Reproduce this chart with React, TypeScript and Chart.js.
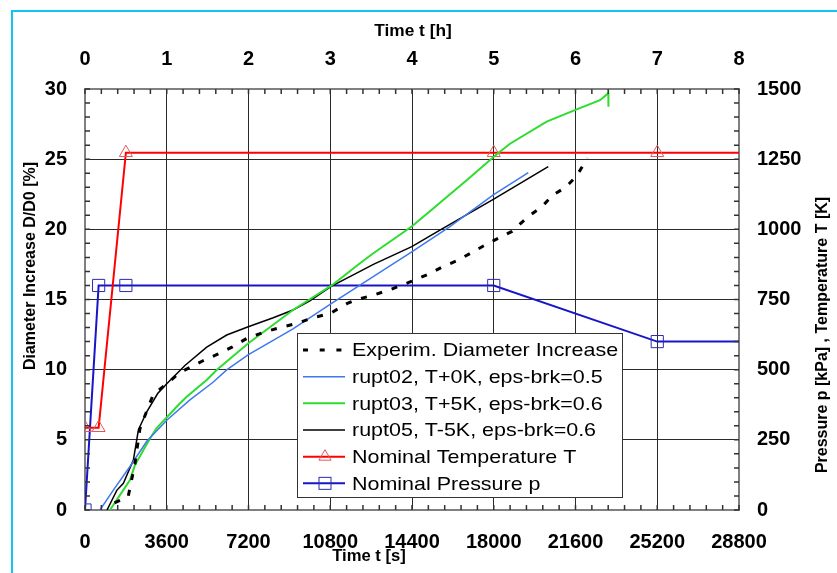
import { useEffect, useRef } from 'react';
import { Chart, registerables } from 'chart.js';
Chart.register(...registerables);

// ---- data ----
const secTicks = [0, 3600, 7200, 10800, 14400, 18000, 21600, 25200, 28800];
const hourTicks = [0, 1, 2, 3, 4, 5, 6, 7, 8];
const diaTicks = [0, 5, 10, 15, 20, 25, 30];
const rightTicks = [0, 250, 500, 750, 1000, 1250, 1500];

const expTime = [1300, 1900, 2200, 2420, 2730, 3000, 3600, 4180, 5150, 5770, 6470, 7150, 7930, 8590, 9340, 10040, 10790, 11530, 11960, 12680, 13430, 14310, 15110, 15770, 16430, 17090, 17750, 18060, 18800, 19510, 20110, 20610, 21170, 21650, 22020, 22100];
const expDia = [0.5, 0.95, 3.3, 5.8, 7.1, 8.2, 9.0, 9.8, 10.6, 11.05, 11.6, 12.25, 12.7, 13.0, 13.3, 13.7, 14.0, 14.7, 15.0, 15.3, 15.7, 16.25, 16.8, 17.35, 17.8, 18.4, 19.0, 19.25, 19.85, 20.9, 21.6, 22.45, 23.0, 23.8, 24.8, 25.1];

const r02Time = [660, 1240, 1980, 2720, 3600, 4620, 5640, 6240, 7180, 9160, 10860, 12110, 14390, 16070, 17980, 19520];
const r02Dia = [0, 1.4, 3.1, 4.9, 6.4, 7.85, 9.1, 9.98, 11.05, 12.9, 14.73, 16.03, 18.4, 20.2, 22.45, 24.04];

const r03Time = [1100, 1980, 2200, 2860, 3155, 3600, 4037, 4478, 5358, 5798, 7193, 9160, 10862, 12110, 12697, 14386, 15267, 16074, 16808, 18130, 18716, 20330, 21652, 22679, 23045, 23050];
const r03Dia = [0, 2.14, 3.2, 5.1, 5.84, 6.6, 7.36, 8.07, 9.26, 9.98, 11.88, 14.25, 16.0, 17.58, 18.3, 20.2, 21.4, 22.5, 23.5, 25.35, 26.1, 27.67, 28.55, 29.2, 29.7, 28.74];

const r05Time = [970, 1400, 1690, 2130, 2350, 2720, 3200, 3600, 4400, 5360, 6240, 7190, 8290, 9160, 9900, 10860, 12110, 12700, 14390, 15630, 17980, 20400];
const r05Dia = [0, 1.4, 1.9, 3.56, 5.7, 7.0, 8.3, 9.0, 10.3, 11.6, 12.47, 13.06, 13.7, 14.25, 14.9, 15.95, 17.0, 17.5, 18.77, 19.95, 22.14, 24.47];

const tempTime = [0, 600, 1800, 18000, 25200, 28800];
const tempK = [293, 293, 1273, 1273, 1273, 1273];
const tempMarker = [1, 1, 1, 1, 1, 0];

const presTime = [0, 600, 1800, 18000, 25200, 28800];
const presKPa = [0, 800, 800, 800, 600, 600];
const presMarker = [1, 1, 1, 1, 1, 0];

const legendLabels = [
  'Experim. Diameter Increase',
  'rupt02, T+0K, eps-brk=0.5',
  'rupt03, T+5K, eps-brk=0.6',
  'rupt05, T-5K, eps-brk=0.6',
  'Nominal Temperature T',
  'Nominal Pressure p',
];

const titleTop = 'Time t [h]';
const titleBottom = 'Time t [s]';
const titleLeft = 'Diameter Increase D/D0 [%]';
const titleRight = 'Pressure p [kPa] , Temperature T [K]';

// ---- styles ----
const C_EXP = '#000000';
const C_R02 = '#3f78ee';
const C_R03 = '#2edc2e';
const C_R05 = '#000000';
const C_TEMP = '#ff0000';
const C_TEMP_MK = '#e05a5a';
const C_PRES = '#1616c8';
const C_PRES_MK = '#2a2ab8';
const FONT = '"Liberation Sans", Arial, sans-serif';

const pts = (xs: number[], ys: number[]) => xs.map((x, i) => ({ x, y: ys[i] }));

function triangle(ctx: CanvasRenderingContext2D, cx: number, cy: number, r: number) {
  const s = Math.sin((2 * Math.PI) / 3) * r;
  ctx.beginPath();
  ctx.moveTo(cx, cy - r);
  ctx.lineTo(cx + s, cy + r / 2);
  ctx.lineTo(cx - s, cy + r / 2);
  ctx.closePath();
  ctx.stroke();
}

const decor = {
  id: 'decor',
  afterDraw(chart: any) {
    const { ctx, chartArea: a, scales } = chart;
    const x = scales.x;
    const y = scales.y;
    ctx.save();
    // minor ticks
    ctx.strokeStyle = '#333';
    ctx.lineWidth = 1.5;
    ctx.beginPath();
    for (let t = 0; t <= 28800; t += 720) {
      const px = x.getPixelForValue(t);
      ctx.moveTo(px, a.top);
      ctx.lineTo(px, a.top + 5);
      ctx.moveTo(px, a.bottom);
      ctx.lineTo(px, a.bottom - 5);
    }
    for (let d = 0; d <= 30; d += 1) {
      const py = y.getPixelForValue(d);
      ctx.moveTo(a.left, py);
      ctx.lineTo(a.left + 5, py);
      ctx.moveTo(a.right, py);
      ctx.lineTo(a.right - 5, py);
    }
    ctx.stroke();

    // axis titles
    ctx.fillStyle = '#000';
    ctx.font = `bold 16px ${FONT}`;
    ctx.textAlign = 'center';
    ctx.textBaseline = 'middle';
    ctx.save();
    ctx.translate(413, 32);
    ctx.scale(1.08, 1);
    ctx.fillText(titleTop, 0, 0);
    ctx.restore();
    ctx.save();
    ctx.translate(369, 557);
    ctx.scale(1.04, 1);
    ctx.fillText(titleBottom, 0, 0);
    ctx.restore();
    ctx.save();
    ctx.translate(31, 266);
    ctx.rotate(-Math.PI / 2);
    ctx.fillText(titleLeft, 0, 0);
    ctx.restore();
    ctx.save();
    ctx.translate(823, 335);
    ctx.rotate(-Math.PI / 2);
    ctx.fillText(titleRight, 0, 0);
    ctx.restore();

    // legend
    const bx = 297.5, by = 333.5, bw = 325, bh = 164;
    ctx.fillStyle = '#fff';
    ctx.fillRect(bx, by, bw, bh);
    ctx.strokeStyle = '#333';
    ctx.lineWidth = 1;
    ctx.strokeRect(bx, by, bw, bh);
    const x0 = 303, x1 = 345, xm = 325;
    legendLabels.forEach((lab, i) => {
      const ry = 350 + i * 26.67;
      ctx.save();
      ctx.setLineDash([]);
      if (i === 0) {
        ctx.strokeStyle = C_EXP; ctx.lineWidth = 3; ctx.setLineDash([5, 11.7]);
      } else if (i === 1) {
        ctx.strokeStyle = C_R02; ctx.lineWidth = 1.5;
      } else if (i === 2) {
        ctx.strokeStyle = C_R03; ctx.lineWidth = 2;
      } else if (i === 3) {
        ctx.strokeStyle = C_R05; ctx.lineWidth = 1.5;
      } else if (i === 4) {
        ctx.strokeStyle = C_TEMP; ctx.lineWidth = 2;
      } else {
        ctx.strokeStyle = C_PRES; ctx.lineWidth = 2;
      }
      ctx.beginPath();
      ctx.moveTo(x0, ry);
      ctx.lineTo(x1, ry);
      ctx.stroke();
      ctx.setLineDash([]);
      if (i === 4) {
        ctx.strokeStyle = C_TEMP_MK; ctx.lineWidth = 1;
        triangle(ctx, xm, ry, 7);
      } else if (i === 5) {
        ctx.strokeStyle = C_PRES_MK; ctx.lineWidth = 1;
        ctx.strokeRect(xm - 6, ry - 6, 12, 12);
      }
      ctx.restore();
      ctx.save();
      ctx.translate(352, ry);
      ctx.scale(1.13, 1);
      ctx.fillStyle = '#000';
      ctx.font = `19px ${FONT}`;
      ctx.textAlign = 'left';
      ctx.textBaseline = 'middle';
      ctx.fillText(lab, 0, 1);
      ctx.restore();
    });

    // outer frame
    ctx.strokeStyle = '#12c4f2';
    ctx.lineWidth = 2;
    ctx.beginPath();
    ctx.moveTo(12, 600);
    ctx.lineTo(12, 11);
    ctx.lineTo(900, 11);
    ctx.stroke();
    ctx.restore();
  },
};

const tickFont = { family: FONT, size: 20, weight: 'bold' as const };
const fmt = (v: any) => String(v);

export default function App() {
  const ref = useRef<HTMLCanvasElement>(null);
  useEffect(() => {
    const chart = new Chart(ref.current!, {
      type: 'line',
      data: {
        datasets: [
          {
            label: legendLabels[0], data: pts(expTime, expDia), borderColor: C_EXP, borderWidth: 3,
            borderDash: [6, 10], pointRadius: 0, xAxisID: 'x', yAxisID: 'y',
          },
          {
            label: legendLabels[1], data: pts(r02Time, r02Dia), borderColor: C_R02, borderWidth: 1.5,
            pointRadius: 0, xAxisID: 'x', yAxisID: 'y',
          },
          {
            label: legendLabels[2], data: pts(r03Time, r03Dia), borderColor: C_R03, borderWidth: 2,
            pointRadius: 0, xAxisID: 'x', yAxisID: 'y',
          },
          {
            label: legendLabels[3], data: pts(r05Time, r05Dia), borderColor: C_R05, borderWidth: 1.5,
            pointRadius: 0, xAxisID: 'x', yAxisID: 'y',
          },
          {
            label: legendLabels[4], data: pts(tempTime, tempK), borderColor: C_TEMP, borderWidth: 2,
            pointStyle: 'triangle', pointRadius: tempMarker.map((m) => m * 7.5), pointBorderColor: C_TEMP_MK,
            pointBackgroundColor: 'rgba(0,0,0,0)', pointBorderWidth: 1, xAxisID: 'x', yAxisID: 'y2',
          },
          {
            label: legendLabels[5], data: pts(presTime, presKPa), borderColor: C_PRES, borderWidth: 2,
            pointStyle: 'rect', pointRadius: presMarker.map((m) => m * 8.6), pointBorderColor: C_PRES_MK,
            pointBackgroundColor: 'rgba(0,0,0,0)', pointBorderWidth: 1, xAxisID: 'x', yAxisID: 'y2',
          },
        ],
      },
      options: {
        animation: false,
        responsive: false,
        events: [],
        layout: { padding: 0 },
        elements: { line: { tension: 0 } },
        plugins: { legend: { display: false }, tooltip: { enabled: false } },
        scales: {
          x: {
            type: 'linear', position: 'bottom', min: 0, max: 28800,
            afterBuildTicks: (s: any) => { s.ticks = secTicks.map((value) => ({ value })); },
            ticks: { font: tickFont, color: '#000', padding: 20, maxRotation: 0, autoSkip: false, callback: fmt },
            grid: { color: '#2a2a2a', lineWidth: 1, drawTicks: false },
            border: { color: '#808080', width: 2 },
            afterFit: (s: any) => { s.height = 63; },
          },
          xh: {
            type: 'linear', position: 'top', min: 0, max: 8,
            afterBuildTicks: (s: any) => { s.ticks = hourTicks.map((value) => ({ value })); },
            ticks: { font: tickFont, color: '#000', padding: 18, maxRotation: 0, autoSkip: false, callback: fmt },
            grid: { drawOnChartArea: false, drawTicks: false },
            border: { color: '#808080', width: 2 },
            afterFit: (s: any) => { s.height = 89; },
          },
          y: {
            type: 'linear', position: 'left', min: 0, max: 30,
            afterBuildTicks: (s: any) => { s.ticks = diaTicks.map((value) => ({ value })); },
            ticks: { font: tickFont, color: '#000', padding: 18, callback: fmt },
            grid: { color: '#2a2a2a', lineWidth: 1, drawTicks: false },
            border: { color: '#808080', width: 2 },
            afterFit: (s: any) => { s.width = 85; },
          },
          y2: {
            type: 'linear', position: 'right', min: 0, max: 1500,
            afterBuildTicks: (s: any) => { s.ticks = rightTicks.map((value) => ({ value })); },
            ticks: { font: tickFont, color: '#000', padding: 18, callback: fmt },
            grid: { drawOnChartArea: false, drawTicks: false },
            border: { color: '#808080', width: 2 },
            afterFit: (s: any) => { s.width = 98; },
          },
        },
      },
      plugins: [decor],
    } as any);
    return () => chart.destroy();
  }, []);
  return (
    <div style={{ position: 'fixed', left: 0, top: 0, width: 837, height: 573, background: '#fff' }}>
      <canvas ref={ref} width={837} height={573} style={{ width: 837, height: 573, display: 'block' }} />
    </div>
  );
}
